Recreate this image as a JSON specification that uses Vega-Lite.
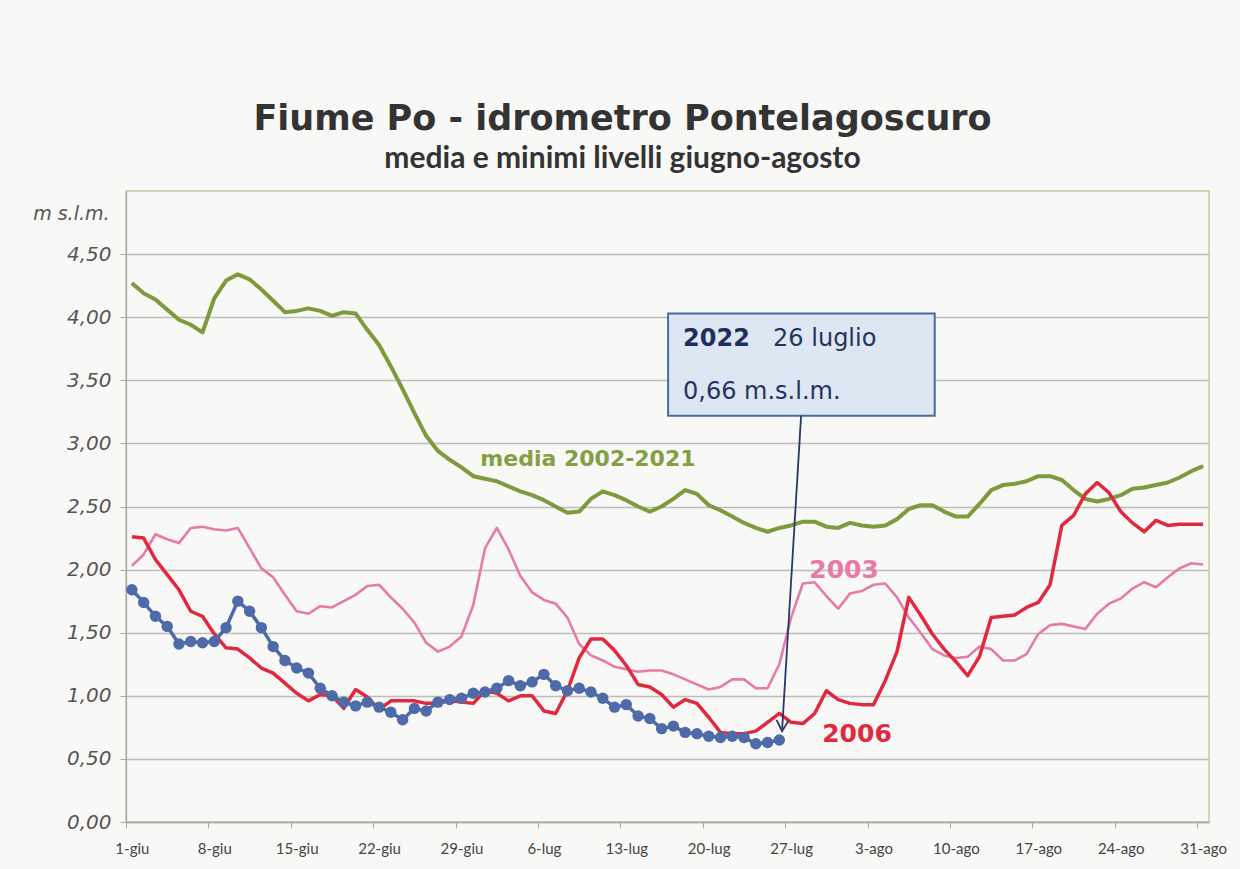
{
  "$schema": "https://vega.github.io/schema/vega-lite/v6.json",
  "autosize": {"type": "none"},
  "width": 1083,
  "height": 631,
  "padding": {"left": 126, "top": 191, "right": 31, "bottom": 47},
  "background": "#f8f8f7",
  "config": {
    "view": {"stroke": "#c5cb9a", "strokeWidth": 1.5},
    "axis": {"domainColor": "#a8a8a8", "tickColor": "#a8a8a8", "domainWidth": 1.3}
  },
  "title": {
    "text": "Fiume Po - idrometro Pontelagoscuro",
    "subtitle": "media e minimi livelli giugno-agosto",
    "anchor": "middle",
    "dx": -45,
    "offset": 17,
    "font": "DejaVu Sans",
    "fontSize": 35,
    "fontWeight": "bold",
    "color": "#333333",
    "subtitleFont": "Lato",
    "subtitleFontSize": 30,
    "subtitleFontWeight": "bold",
    "subtitleColor": "#333333",
    "subtitlePadding": 7
  },
  "data": {
    "values": [
      {"d": 0, "media": 4.27, "a2003": 2.03, "a2006": 2.26, "a2022": 1.84},
      {"d": 1, "media": 4.19, "a2003": 2.12, "a2006": 2.25, "a2022": 1.74},
      {"d": 2, "media": 4.14, "a2003": 2.28, "a2006": 2.08, "a2022": 1.63},
      {"d": 3, "media": 4.06, "a2003": 2.24, "a2006": 1.96, "a2022": 1.55},
      {"d": 4, "media": 3.98, "a2003": 2.21, "a2006": 1.84, "a2022": 1.41},
      {"d": 5, "media": 3.94, "a2003": 2.33, "a2006": 1.67, "a2022": 1.43},
      {"d": 6, "media": 3.88, "a2003": 2.34, "a2006": 1.63, "a2022": 1.42},
      {"d": 7, "media": 4.15, "a2003": 2.32, "a2006": 1.49, "a2022": 1.43},
      {"d": 8, "media": 4.29, "a2003": 2.31, "a2006": 1.38, "a2022": 1.54},
      {"d": 9, "media": 4.34, "a2003": 2.33, "a2006": 1.37, "a2022": 1.75},
      {"d": 10, "media": 4.30, "a2003": 2.17, "a2006": 1.30, "a2022": 1.67},
      {"d": 11, "media": 4.22, "a2003": 2.01, "a2006": 1.22, "a2022": 1.54},
      {"d": 12, "media": 4.13, "a2003": 1.94, "a2006": 1.18, "a2022": 1.39},
      {"d": 13, "media": 4.04, "a2003": 1.80, "a2006": 1.10, "a2022": 1.28},
      {"d": 14, "media": 4.05, "a2003": 1.67, "a2006": 1.02, "a2022": 1.22},
      {"d": 15, "media": 4.07, "a2003": 1.65, "a2006": 0.96, "a2022": 1.18},
      {"d": 16, "media": 4.05, "a2003": 1.71, "a2006": 1.01, "a2022": 1.06},
      {"d": 17, "media": 4.01, "a2003": 1.70, "a2006": 1.00, "a2022": 1.00},
      {"d": 18, "media": 4.04, "a2003": 1.75, "a2006": 0.90, "a2022": 0.95},
      {"d": 19, "media": 4.03, "a2003": 1.80, "a2006": 1.05, "a2022": 0.92},
      {"d": 20, "media": 3.90, "a2003": 1.87, "a2006": 0.99, "a2022": 0.95},
      {"d": 21, "media": 3.78, "a2003": 1.88, "a2006": 0.89, "a2022": 0.91},
      {"d": 22, "media": 3.61, "a2003": 1.78, "a2006": 0.96, "a2022": 0.87},
      {"d": 23, "media": 3.43, "a2003": 1.69, "a2006": 0.96, "a2022": 0.81},
      {"d": 24, "media": 3.24, "a2003": 1.58, "a2006": 0.96, "a2022": 0.90},
      {"d": 25, "media": 3.06, "a2003": 1.42, "a2006": 0.94, "a2022": 0.88},
      {"d": 26, "media": 2.94, "a2003": 1.35, "a2006": 0.94, "a2022": 0.95},
      {"d": 27, "media": 2.87, "a2003": 1.39, "a2006": 0.96, "a2022": 0.97},
      {"d": 28, "media": 2.81, "a2003": 1.47, "a2006": 0.95, "a2022": 0.98},
      {"d": 29, "media": 2.74, "a2003": 1.72, "a2006": 0.94, "a2022": 1.02},
      {"d": 30, "media": 2.72, "a2003": 2.17, "a2006": 1.04, "a2022": 1.03},
      {"d": 31, "media": 2.70, "a2003": 2.33, "a2006": 1.02, "a2022": 1.06},
      {"d": 32, "media": 2.66, "a2003": 2.16, "a2006": 0.96, "a2022": 1.12},
      {"d": 33, "media": 2.62, "a2003": 1.95, "a2006": 1.00, "a2022": 1.08},
      {"d": 34, "media": 2.59, "a2003": 1.82, "a2006": 1.00, "a2022": 1.11},
      {"d": 35, "media": 2.55, "a2003": 1.76, "a2006": 0.88, "a2022": 1.17},
      {"d": 36, "media": 2.50, "a2003": 1.73, "a2006": 0.86, "a2022": 1.08},
      {"d": 37, "media": 2.45, "a2003": 1.62, "a2006": 1.04, "a2022": 1.04},
      {"d": 38, "media": 2.46, "a2003": 1.41, "a2006": 1.30, "a2022": 1.06},
      {"d": 39, "media": 2.56, "a2003": 1.32, "a2006": 1.45, "a2022": 1.03},
      {"d": 40, "media": 2.62, "a2003": 1.28, "a2006": 1.45, "a2022": 0.98},
      {"d": 41, "media": 2.59, "a2003": 1.23, "a2006": 1.36, "a2022": 0.91},
      {"d": 42, "media": 2.55, "a2003": 1.21, "a2006": 1.24, "a2022": 0.93},
      {"d": 43, "media": 2.50, "a2003": 1.19, "a2006": 1.09, "a2022": 0.84},
      {"d": 44, "media": 2.46, "a2003": 1.20, "a2006": 1.07, "a2022": 0.82},
      {"d": 45, "media": 2.50, "a2003": 1.20, "a2006": 1.01, "a2022": 0.74},
      {"d": 46, "media": 2.56, "a2003": 1.17, "a2006": 0.91, "a2022": 0.76},
      {"d": 47, "media": 2.63, "a2003": 1.13, "a2006": 0.97, "a2022": 0.71},
      {"d": 48, "media": 2.60, "a2003": 1.09, "a2006": 0.94, "a2022": 0.70},
      {"d": 49, "media": 2.51, "a2003": 1.05, "a2006": 0.83, "a2022": 0.68},
      {"d": 50, "media": 2.47, "a2003": 1.07, "a2006": 0.71, "a2022": 0.67},
      {"d": 51, "media": 2.42, "a2003": 1.13, "a2006": 0.70, "a2022": 0.68},
      {"d": 52, "media": 2.37, "a2003": 1.13, "a2006": 0.70, "a2022": 0.67},
      {"d": 53, "media": 2.33, "a2003": 1.06, "a2006": 0.72, "a2022": 0.62},
      {"d": 54, "media": 2.30, "a2003": 1.06, "a2006": 0.79, "a2022": 0.63},
      {"d": 55, "media": 2.33, "a2003": 1.25, "a2006": 0.86, "a2022": 0.65},
      {"d": 56, "media": 2.35, "a2003": 1.62, "a2006": 0.79},
      {"d": 57, "media": 2.38, "a2003": 1.89, "a2006": 0.78},
      {"d": 58, "media": 2.38, "a2003": 1.90, "a2006": 0.86},
      {"d": 59, "media": 2.34, "a2003": 1.79, "a2006": 1.04},
      {"d": 60, "media": 2.33, "a2003": 1.69, "a2006": 0.97},
      {"d": 61, "media": 2.37, "a2003": 1.81, "a2006": 0.94},
      {"d": 62, "media": 2.35, "a2003": 1.83, "a2006": 0.93},
      {"d": 63, "media": 2.34, "a2003": 1.88, "a2006": 0.93},
      {"d": 64, "media": 2.35, "a2003": 1.89, "a2006": 1.12},
      {"d": 65, "media": 2.40, "a2003": 1.78, "a2006": 1.35},
      {"d": 66, "media": 2.48, "a2003": 1.62, "a2006": 1.78},
      {"d": 67, "media": 2.51, "a2003": 1.50, "a2006": 1.64},
      {"d": 68, "media": 2.51, "a2003": 1.37, "a2006": 1.49},
      {"d": 69, "media": 2.46, "a2003": 1.32, "a2006": 1.37},
      {"d": 70, "media": 2.42, "a2003": 1.30, "a2006": 1.27},
      {"d": 71, "media": 2.42, "a2003": 1.31, "a2006": 1.16},
      {"d": 72, "media": 2.52, "a2003": 1.39, "a2006": 1.31},
      {"d": 73, "media": 2.63, "a2003": 1.37, "a2006": 1.62},
      {"d": 74, "media": 2.67, "a2003": 1.28, "a2006": 1.63},
      {"d": 75, "media": 2.68, "a2003": 1.28, "a2006": 1.64},
      {"d": 76, "media": 2.70, "a2003": 1.33, "a2006": 1.70},
      {"d": 77, "media": 2.74, "a2003": 1.49, "a2006": 1.74},
      {"d": 78, "media": 2.74, "a2003": 1.56, "a2006": 1.88},
      {"d": 79, "media": 2.71, "a2003": 1.57, "a2006": 2.35},
      {"d": 80, "media": 2.63, "a2003": 1.55, "a2006": 2.43},
      {"d": 81, "media": 2.56, "a2003": 1.53, "a2006": 2.60},
      {"d": 82, "media": 2.54, "a2003": 1.65, "a2006": 2.69},
      {"d": 83, "media": 2.56, "a2003": 1.73, "a2006": 2.61},
      {"d": 84, "media": 2.59, "a2003": 1.77, "a2006": 2.46},
      {"d": 85, "media": 2.64, "a2003": 1.85, "a2006": 2.37},
      {"d": 86, "media": 2.65, "a2003": 1.90, "a2006": 2.30},
      {"d": 87, "media": 2.67, "a2003": 1.86, "a2006": 2.39},
      {"d": 88, "media": 2.69, "a2003": 1.94, "a2006": 2.35},
      {"d": 89, "media": 2.73, "a2003": 2.01, "a2006": 2.36},
      {"d": 90, "media": 2.78, "a2003": 2.05, "a2006": 2.36},
      {"d": 91, "media": 2.82, "a2003": 2.04, "a2006": 2.36}
    ]
  },
  "encoding": {
    "x": {
      "field": "d",
      "type": "quantitative",
      "scale": {"domain": [-0.5, 91.5], "nice": false, "zero": false},
      "axis": {
        "title": null,
        "values": [0, 7, 14, 21, 28, 35, 42, 49, 56, 63, 70, 77, 84, 91],
        "labelExpr": "['1-giu','8-giu','15-giu','22-giu','29-giu','6-lug','13-lug','20-lug','27-lug','3-ago','10-ago','17-ago','24-ago','31-ago'][round(datum.value/7)]",
        "grid": false,
        "tickOffset": -5.885,
        "labelOffset": 5.885,
        "tickSize": 6,
        "labelFont": "Lato",
        "labelFontSize": 15,
        "labelColor": "#444444",
        "labelPadding": 13,
        "labelFlush": false,
        "labelOverlap": false
      }
    },
    "y": {
      "field": "v",
      "type": "quantitative",
      "scale": {"domain": [0, 5], "nice": false, "zero": true},
      "axis": {
        "values": [0, 0.5, 1, 1.5, 2, 2.5, 3, 3.5, 4, 4.5],
        "labelExpr": "replace(format(datum.value, '.2f'), '.', ',')",
        "title": "m s.l.m.",
        "titleAngle": 0,
        "titleAlign": "right",
        "titleBaseline": "middle",
        "titleX": -17,
        "titleY": 22,
        "titleFont": "DejaVu Sans",
        "titleFontStyle": "italic",
        "titleFontWeight": "normal",
        "titleFontSize": 19,
        "titleColor": "#555555",
        "labelFont": "DejaVu Sans",
        "labelFontStyle": "italic",
        "labelFontSize": 20,
        "labelColor": "#555555",
        "labelPadding": 9,
        "tickSize": 6,
        "gridColor": "#bdbdbd",
        "gridWidth": 1.3,
        "labelFlush": false
      }
    }
  },
  "layer": [
    {
      "transform": [{"fold": ["media"], "as": ["s", "v"]}],
      "mark": {"type": "line", "color": "#7d9b3c", "strokeWidth": 4, "strokeJoin": "round"}
    },
    {
      "transform": [{"fold": ["a2003"], "as": ["s", "v"]}],
      "mark": {"type": "line", "color": "#e67aa8", "strokeWidth": 2.6, "strokeJoin": "round"}
    },
    {
      "transform": [{"fold": ["a2006"], "as": ["s", "v"]}],
      "mark": {"type": "line", "color": "#e2283e", "strokeWidth": 3.5, "strokeJoin": "round"}
    },
    {
      "transform": [{"filter": "isValid(datum.a2022)"}, {"fold": ["a2022"], "as": ["s", "v"]}],
      "mark": {"type": "line", "color": "#4e6aa8", "strokeWidth": 3.5, "point": {"filled": true, "size": 130, "color": "#4e6aa8", "opacity": 1}}
    },
    {
      "data": {"values": [{"d": 45.55, "d2": 68.2, "v": 3.22, "v2": 4.03}]},
      "mark": {"type": "rect", "fill": "#dde7f4", "stroke": "#4a69a5", "strokeWidth": 2},
      "encoding": {"x2": {"field": "d2"}, "y2": {"field": "v2"}}
    },
    {
      "data": {"values": [{"d": 56.85, "v": 3.22, "d2": 55.23, "v2": 0.72}]},
      "mark": {"type": "rule", "color": "#27386a", "strokeWidth": 1.8},
      "encoding": {"x2": {"field": "d2"}, "y2": {"field": "v2"}}
    },
    {
      "data": {"values": [{"d": 55.23, "v": 0.72}]},
      "mark": {"type": "point", "shape": "M-0.55,-1L0,0L0.55,-1", "filled": false, "stroke": "#27386a", "strokeWidth": 1.8, "size": 484, "angle": 3, "opacity": 1}
    },
    {
      "data": {"values": [{"d": 46.82, "v": 3.77, "t": "2022"}]},
      "mark": {"type": "text", "align": "left", "baseline": "alphabetic", "font": "DejaVu Sans", "fontWeight": "bold", "fontSize": 24, "color": "#1f2f5c"},
      "encoding": {"text": {"field": "t"}}
    },
    {
      "data": {"values": [{"d": 54.47, "v": 3.77, "t": "26 luglio"}, {"d": 46.82, "v": 3.35, "t": "0,66 m.s.l.m."}]},
      "mark": {"type": "text", "align": "left", "baseline": "alphabetic", "font": "DejaVu Sans", "fontSize": 24, "color": "#24345f"},
      "encoding": {"text": {"field": "t"}}
    },
    {
      "data": {"values": [{"d": 38.74, "v": 2.82, "t": "media 2002-2021"}]},
      "mark": {"type": "text", "align": "center", "baseline": "alphabetic", "font": "DejaVu Sans", "fontWeight": "bold", "fontSize": 22, "color": "#82a043"},
      "encoding": {"text": {"field": "t"}}
    },
    {
      "data": {"values": [{"d": 60.5, "v": 1.93, "t": "2003"}]},
      "mark": {"type": "text", "align": "center", "baseline": "alphabetic", "font": "DejaVu Sans", "fontWeight": "bold", "fontSize": 25, "color": "#e87aa8"},
      "encoding": {"text": {"field": "t"}}
    },
    {
      "data": {"values": [{"d": 61.6, "v": 0.63, "t": "2006"}]},
      "mark": {"type": "text", "align": "center", "baseline": "alphabetic", "font": "DejaVu Sans", "fontWeight": "bold", "fontSize": 25, "color": "#e2283e"},
      "encoding": {"text": {"field": "t"}}
    }
  ]
}
